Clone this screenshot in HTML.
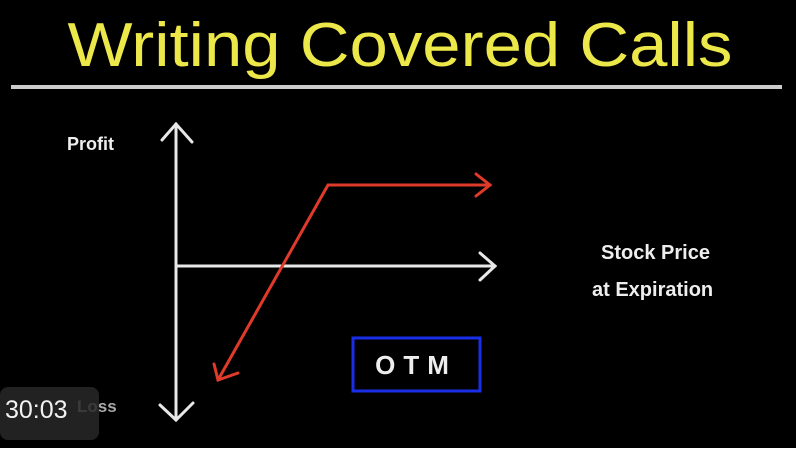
<!DOCTYPE html>
<html><head><style>
body{margin:0;width:796px;height:452px;background:#fff;overflow:hidden;font-family:"Liberation Sans",sans-serif}
#c{position:absolute;left:0;top:0;width:796px;height:448px;background:#000}
.t{position:absolute;color:#eee;font-family:"Liberation Sans",sans-serif}
</style></head><body>
<div id="c">
<svg width="796" height="448" style="position:absolute;left:0;top:0">
<text x="400" y="66" text-anchor="middle" fill="#ece84a" font-family="Liberation Sans, sans-serif" font-size="62" textLength="665" lengthAdjust="spacingAndGlyphs">Writing Covered Calls</text>
<line x1="11" y1="87" x2="782" y2="87" stroke="#ccc" stroke-width="4"/>
<g stroke="#e8e8e8" stroke-width="3" fill="none" stroke-linecap="round">
<line x1="176" y1="124" x2="176" y2="420"/>
<polyline points="162,140 176,124 192,142"/>
<polyline points="160,405 176,420 193,403"/>
<line x1="176" y1="266" x2="495" y2="266"/>
<polyline points="480,253 495,266 480,280"/>
</g>
<g stroke="#e03a2a" stroke-width="3" fill="none" stroke-linecap="round">
<polyline points="218,380 328,185 490,185"/>
<polyline points="476,174 490,185 476,196"/>
<polyline points="214,364 218,380 238,373"/>
</g>
<rect x="353" y="338" width="127" height="53" stroke="#1a2ee8" stroke-width="3" fill="none"/>
<text x="416" y="374" text-anchor="middle" fill="#eee" font-family="Liberation Sans, sans-serif" font-size="26" font-weight="bold" letter-spacing="8">OTM</text>
</svg>
<div class="t" style="left:67px;top:134px;font-size:18px;font-weight:bold">Profit</div>
<div class="t" style="left:601px;top:242px;font-size:20px;font-weight:bold">Stock Price</div>
<div class="t" style="left:592px;top:279px;font-size:20px;font-weight:bold">at Expiration</div>
<div class="t" style="left:77px;top:397px;font-size:17px;color:#aaa;font-weight:bold">Loss</div>
<div style="position:absolute;left:0;top:387px;width:99px;height:53px;background:rgba(40,40,40,0.85);border-radius:8px"></div>
<div class="t" style="left:5px;top:396px;font-size:25px;color:#f2f2f2">30:03</div>
</div>
</body></html>
